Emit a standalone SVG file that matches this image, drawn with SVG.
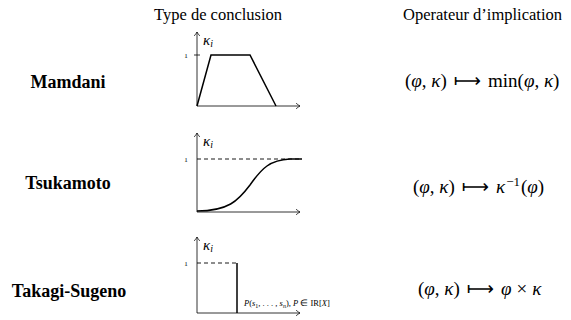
<svg xmlns="http://www.w3.org/2000/svg" width="571" height="320" viewBox="0 0 571 320">
<defs>
<marker id="ah" viewBox="-6 -4 8 8" markerWidth="8" markerHeight="8" refX="0" refY="0" orient="auto" markerUnits="userSpaceOnUse">
<path d="M-4,-2.8 Q-1.5,-0.8 0,0 Q-1.5,0.8 -4,2.8" fill="none" stroke="#000" stroke-width="0.7"/>
</marker>
</defs>
<style>
text{font-family:'Liberation Serif','Times New Roman',serif;fill:#000}
.hdr{font-size:16.5px}
.row{font-size:18px;font-weight:bold}
.axis{stroke:#000;stroke-width:0.8;fill:none;marker-end:url(#ah)}
.curve{stroke:#000;stroke-width:1.5;fill:none}
.dash{stroke:#000;stroke-width:0.9;fill:none;stroke-dasharray:4,3}
.tick{stroke:#000;stroke-width:0.8}
.one{font-size:7px}
.k{font-size:15px;font-style:italic}
.ks{font-size:10px}
.f{font-size:19px}
.it{font-style:italic}
.ar{font-family:'DejaVu Sans',sans-serif;font-size:19px}
.pl{font-size:8.5px}
</style>
<g id="headers">
<text class="hdr" x="154" y="20">Type de conclusion</text>
<text class="hdr" x="403" y="20">Operateur d’implication</text>
</g>
<g id="mamdani">
<text class="row" x="68" y="88" text-anchor="middle">Mamdani</text>
<g id="mamdani-plot">
<line class="axis" x1="197" y1="106" x2="197" y2="32"/>
<line class="axis" x1="197" y1="106" x2="300" y2="106"/>
<line class="tick" x1="194" y1="55" x2="200" y2="55"/>
<text class="one" x="186" y="58" text-anchor="middle">1</text>
<text class="k" x="203" y="45">κ<tspan class="ks" dy="2">i</tspan></text>
<polyline class="curve" points="197,106 211,55 250,55 276,106"/>
</g>
<text class="f" x="405" y="87">(<tspan class="it">φ</tspan>, <tspan class="it">κ</tspan>)<tspan class="ar" dx="7">⟼</tspan><tspan dx="7">min(</tspan><tspan class="it">φ</tspan>, <tspan class="it">κ</tspan>)</text>
</g>
<g id="tsukamoto">
<text class="row" x="68" y="189" text-anchor="middle">Tsukamoto</text>
<g id="tsukamoto-plot">
<line class="axis" x1="197" y1="212" x2="197" y2="133"/>
<line class="axis" x1="197" y1="212" x2="300" y2="212"/>
<line class="dash" x1="197" y1="159" x2="302" y2="159"/>
<text class="one" x="186" y="162" text-anchor="middle">1</text>
<text class="k" x="203" y="146">κ<tspan class="ks" dy="2">i</tspan></text>
<path class="curve" d="M197,211 C228,211 238,201 250,185 C262,168 270,160 290,159 L302,159"/>
</g>
<text class="f" x="413" y="193">(<tspan class="it">φ</tspan>, <tspan class="it">κ</tspan>)<tspan class="ar" dx="7">⟼</tspan><tspan class="it" dx="7">κ</tspan><tspan font-size="13" dx="1" dy="-7">−1</tspan><tspan dx="1" dy="7">(</tspan><tspan class="it">φ</tspan>)</text>
</g>
<g id="takagi-sugeno">
<text class="row" x="69" y="297" text-anchor="middle">Takagi-Sugeno</text>
<g id="takagi-plot">
<line class="axis" x1="197" y1="313" x2="197" y2="237"/>
<line class="axis" x1="197" y1="313" x2="300" y2="313"/>
<line class="dash" x1="197" y1="263" x2="237" y2="263"/>
<line class="curve" x1="237" y1="263" x2="237" y2="313"/>
<text class="one" x="186" y="266" text-anchor="middle">1</text>
<text class="k" x="203" y="250">κ<tspan class="ks" dy="2">i</tspan></text>
<text class="pl" x="244" y="306"><tspan class="it">P</tspan>(<tspan class="it">s</tspan><tspan font-size="6" dy="1.5">1</tspan><tspan dy="-1.5">, . . . , </tspan><tspan class="it">s</tspan><tspan font-size="6" class="it" dy="1.5">n</tspan><tspan dy="-1.5">),  </tspan><tspan class="it">P</tspan> ∈ IR[<tspan class="it">X</tspan>]</text>
</g>
<text class="f" x="418" y="295">(<tspan class="it">φ</tspan>, <tspan class="it">κ</tspan>)<tspan class="ar" dx="7">⟼</tspan><tspan class="it" dx="7">φ</tspan><tspan dx="5">×</tspan><tspan class="it" dx="5">κ</tspan></text>
</g>
</svg>
